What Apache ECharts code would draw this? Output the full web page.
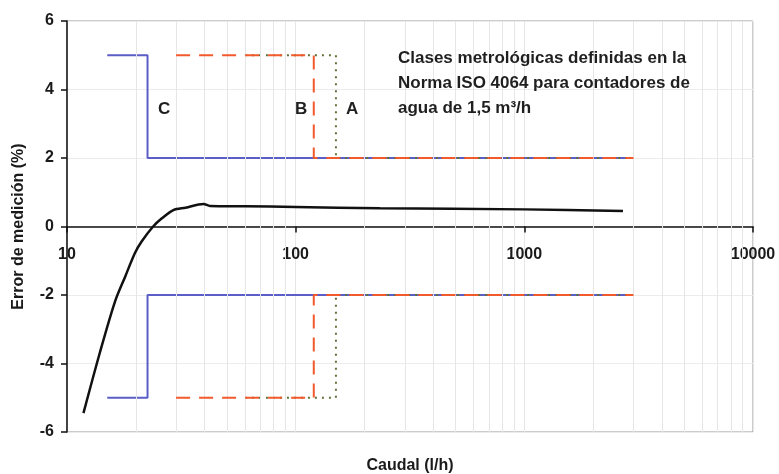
<!DOCTYPE html>
<html lang="es">
<head>
<meta charset="UTF-8">
<title>Clases metrológicas ISO 4064</title>
<script src="https://cdn.jsdelivr.net/npm/echarts@6/dist/echarts.min.js"></script>
<style>
  html, body { margin: 0; padding: 0; background: #fff; }
  #chart { width: 779px; height: 474px; }
</style>
</head>
<body>
<div id="chart"></div>
<script>
// clases metrologicas (caudales en l/h)
var clases   = ['C', 'B', 'A'];
var qMin     = [15, 30, 60];
var qTrans   = [22.5, 120, 150];
var qMax     = 3000;
var errMin   = 5;   // zona Qmin - Qt
var errMax   = 2;   // zona Qt - Qmax

// curva medida del contador
var caudal = [11.8, 13.9, 16.2, 18, 19.8, 21.2, 23.8, 26, 29.2, 33, 39.5, 42.2, 60, 100, 234, 1000, 2700];
var error  = [-5.45, -3.7, -2.2, -1.45, -0.78, -0.44, 0, 0.24, 0.48, 0.55, 0.66, 0.6, 0.59, 0.57, 0.53, 0.5, 0.45];

// lineas de rejilla secundarias (escala log)
var gridMenor = [20, 30, 40, 50, 60, 70, 80, 90, 200, 300, 400, 500, 600, 700, 800, 900,
                 2000, 3000, 4000, 5000, 6000, 7000, 8000, 9000];

var colores = { C: '#5a5ec6', B: '#f25a2c', A: '#5f7238' };
var estilos = { C: 'solid', B: [14, 9], A: [2, 5] };
var zs      = { C: 3, B: 5, A: 4 };

function escalon(i, signo) {
    return [
        [qMin[i], signo * errMin],
        [qTrans[i], signo * errMin],
        [qTrans[i], signo * errMax],
        [qMax, signo * errMax]
    ];
}

var series = [{
    type: 'line',
    data: [],
    silent: true,
    z: 1,
    markLine: {
        silent: true,
        symbol: 'none',
        label: { show: false },
        lineStyle: { color: '#e6e6e6', width: 1, type: 'solid' },
        data: gridMenor.map(function (v) { return { xAxis: v }; })
    }
}];

clases.forEach(function (c, i) {
    [1, -1].forEach(function (s) {
        series.push({
            name: c,
            type: 'line',
            data: escalon(i, s),
            showSymbol: false,
            z: zs[c],
            lineStyle: { color: colores[c], width: 2, type: estilos[c] }
        });
    });
});

series.push({
    name: 'medida',
    type: 'line',
    data: caudal.map(function (q, i) { return [q, error[i]]; }),
    showSymbol: false,
    smooth: 0.3,
    z: 6,
    lineStyle: { color: '#111', width: 2.5 }
});

var fuente = '"Liberation Sans", Arial, sans-serif';

var chart = echarts.init(document.getElementById('chart'));
chart.setOption({
    animation: false,
    backgroundColor: '#fff',
    textStyle: { fontFamily: fuente },
    grid: { left: 67, right: 26, top: 21, bottom: 42, show: true, borderColor: '#999', borderWidth: 1 },
    xAxis: {
        type: 'log',
        logBase: 10,
        min: 10,
        max: 10000,
        // eje horizontal dibujado sobre y = 0
        offset: -205.5,
        axisLine: { onZero: false, lineStyle: { color: '#111', width: 1.5 } },
        axisTick: { show: true, length: 6, lineStyle: { color: '#111', width: 1.5 } },
        axisLabel: { margin: 20, fontSize: 16, fontWeight: 'bold', color: '#1a1a1a', fontFamily: fuente,
                     formatter: function (v) { return String(v); } },
        splitLine: { show: true, lineStyle: { color: '#e6e6e6' } },
        minorTick: { show: false }
    },
    yAxis: {
        type: 'value',
        min: -6,
        max: 6,
        interval: 2,
        name: 'Error de medición (%)',
        nameLocation: 'middle',
        nameGap: 40,
        nameTextStyle: { fontSize: 16, fontWeight: 'bold', color: '#1a1a1a', fontFamily: fuente },
        axisLine: { show: true, onZero: false, lineStyle: { color: '#111', width: 1.5 } },
        axisTick: { show: true, length: 6, lineStyle: { color: '#111', width: 1.5 } },
        axisLabel: { margin: 13, fontSize: 16, fontWeight: 'bold', color: '#1a1a1a', fontFamily: fuente },
        splitLine: { show: true, lineStyle: { color: '#ececec' } }
    },
    graphic: [
        { type: 'text', left: 398, top: 46, z: 10,
          style: { text: 'Clases metrológicas definidas en la\nNorma ISO 4064 para contadores de\nagua de 1,5 m³/h',
                   font: 'bold 17px ' + fuente, fill: '#1f1f1f', lineHeight: 25 } },
        { type: 'text', left: 158, top: 101, z: 10,
          style: { text: 'C', font: 'bold 17px ' + fuente, fill: '#1f1f1f' } },
        { type: 'text', left: 295, top: 101, z: 10,
          style: { text: 'B', font: 'bold 17px ' + fuente, fill: '#1f1f1f' } },
        { type: 'text', left: 346, top: 101, z: 10,
          style: { text: 'A', font: 'bold 17px ' + fuente, fill: '#1f1f1f' } },
        { type: 'text', x: 410, y: 466, z: 10,
          style: { text: 'Caudal (l/h)', font: 'bold 16px ' + fuente, fill: '#1a1a1a',
                   textAlign: 'center', textVerticalAlign: 'middle' } }
    ],
    series: series
});
</script>
</body>
</html>
